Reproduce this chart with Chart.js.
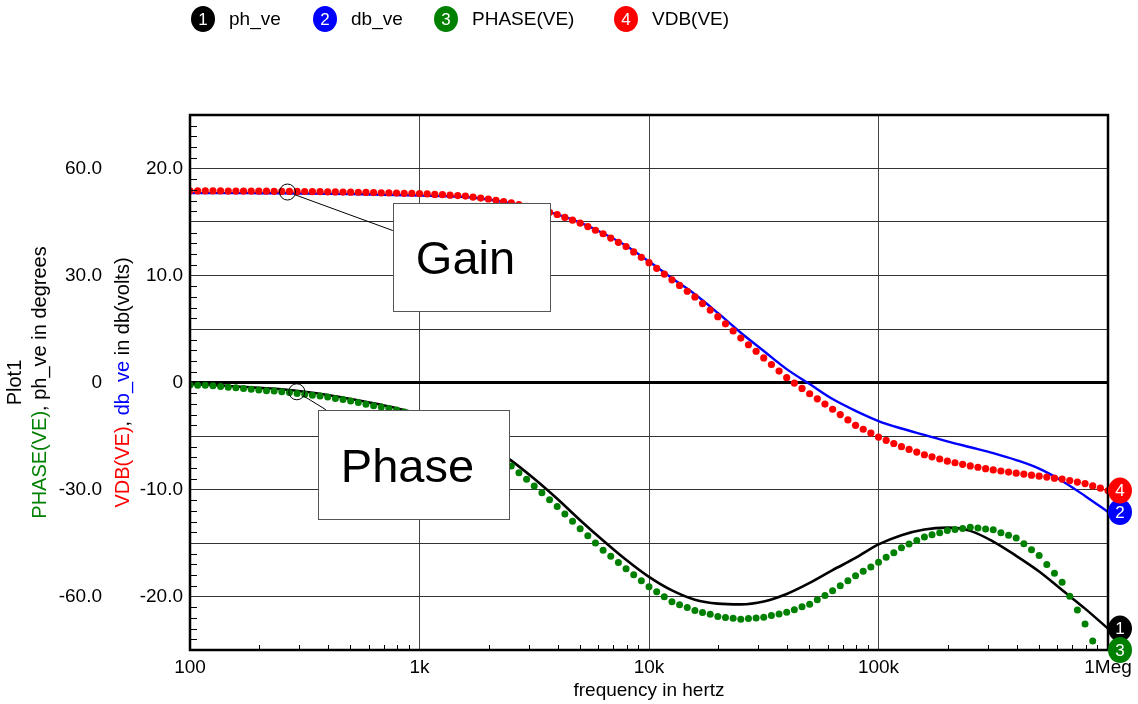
<!DOCTYPE html>
<html>
<head>
<meta charset="utf-8">
<title>Plot1</title>
<script src="https://cdn.jsdelivr.net/npm/chart.js@4.4.1/dist/chart.umd.min.js"></script>
<style>
  html, body { margin: 0; padding: 0; background: #fff; }
  #plot { display: block; }
</style>
</head>
<body>
<canvas id="plot" width="1138" height="704"></canvas>
<script>
// AC sweep: decades and the points inside each decade
const decades = [100, 1000, 10000, 100000];
const dotMant = [1.000, 1.080, 1.166, 1.259, 1.359, 1.468, 1.585, 1.711, 1.848, 1.995,
  2.154, 2.326, 2.512, 2.712, 2.929, 3.162, 3.415, 3.687, 3.981, 4.299,
  4.642, 5.012, 5.412, 5.843, 6.310, 6.813, 7.356, 7.943, 8.577, 9.261];
const lineMant = [1.000, 1.259, 1.585, 1.995, 2.512, 3.162, 3.981, 5.012, 6.310, 7.943];

// VDB(VE) - red dots, dB
const vdbVe = [17.90, 17.90, 17.90, 17.90, 17.90, 17.89, 17.89, 17.89, 17.88, 17.88,
  17.88, 17.87, 17.87, 17.86, 17.86, 17.85, 17.84, 17.83, 17.82, 17.81,
  17.80, 17.79, 17.78, 17.76, 17.75, 17.73, 17.72, 17.70, 17.68, 17.67,
  17.65, 17.62, 17.58, 17.55, 17.51, 17.47, 17.42, 17.33, 17.24, 17.15,
  17.03, 16.90, 16.78, 16.62, 16.46, 16.30, 16.10, 15.90, 15.70, 15.43,
  15.17, 14.90, 14.57, 14.23, 13.90, 13.50, 13.10, 12.70, 12.20, 11.70,
  11.20, 10.67, 10.13, 9.60, 9.07, 8.53, 8.00, 7.38, 6.77, 6.15,
  5.48, 4.82, 4.15, 3.53, 2.92, 2.30, 1.68, 1.07, 0.45, -0.05,
  -0.55, -1.05, -1.53, -2.02, -2.50, -3.00, -3.50, -4.00, -4.37, -4.73,
  -5.10, -5.40, -5.70, -6.00, -6.25, -6.50, -6.75, -6.95, -7.15, -7.35,
  -7.50, -7.65, -7.80, -7.92, -8.05, -8.17, -8.27, -8.37, -8.47, -8.56,
  -8.66, -8.75, -8.84, -8.94, -9.03, -9.17, -9.31, -9.45, -9.67, -9.88,
  -10.10];

// PHASE(VE) - green dots, degrees
const phaseVe = [-0.7, -0.8, -0.8, -0.9, -1.1, -1.3, -1.5, -1.7, -1.9, -2.1,
  -2.3, -2.4, -2.6, -2.8, -3.1, -3.3, -3.6, -3.8, -4.1, -4.5,
  -4.8, -5.2, -5.6, -6.1, -6.5, -6.9, -7.3, -7.7, -8.3, -8.9,
  -9.5, -10.3, -11.2, -12.0, -13.0, -13.9, -14.9, -16.0, -17.2, -18.3,
  -20.0, -21.7, -23.4, -25.3, -27.1, -29.0, -30.9, -32.9, -34.8, -36.9,
  -38.9, -41.0, -43.0, -45.0, -47.0, -48.7, -50.5, -52.2, -53.9, -55.6,
  -57.3, -58.7, -60.1, -61.5, -62.3, -63.1, -63.9, -64.5, -65.0, -65.6,
  -65.9, -66.1, -66.4, -66.2, -66.0, -65.8, -65.3, -64.9, -64.4, -63.7,
  -62.9, -62.2, -60.9, -59.7, -58.4, -57.0, -55.6, -54.2, -52.9, -51.7,
  -50.4, -49.0, -47.7, -46.3, -45.3, -44.3, -43.3, -42.7, -42.1, -41.5,
  -41.2, -40.9, -40.6, -40.8, -41.1, -41.3, -42.1, -42.8, -43.6, -45.2,
  -46.9, -48.5, -51.0, -53.5, -56.0, -59.9, -63.8, -67.7, -72.5, -77.0,
  -81.0];

// db_ve - blue line, dB
const dbVe = [17.70, 17.70, 17.70, 17.69, 17.68, 17.66, 17.64, 17.61, 17.57, 17.52,
  17.48, 17.42, 17.33, 17.10, 16.75, 16.30, 15.72, 14.95, 13.95, 12.78,
  11.30, 9.75, 8.25, 6.50, 4.65, 2.95, 1.25, -0.15, -1.55, -2.65,
  -3.60, -4.30, -4.90, -5.50, -6.05, -6.60, -7.25, -8.05, -9.20, -10.60,
  -12.10];

// ph_ve - black line, degrees
const phVe = [-0.5, -0.7, -1.1, -1.5, -1.9, -2.6, -3.5, -4.6, -5.8, -7.2,
  -8.9, -11.2, -14.0, -17.4, -21.9, -27.0, -32.6, -38.6, -44.3, -49.7,
  -54.5, -58.3, -60.9, -62.0, -62.2, -61.4, -59.3, -56.2, -52.6, -49.2,
  -45.4, -42.8, -41.2, -40.7, -41.6, -44.6, -48.6, -53.0, -58.2, -63.4,
  -69.0];

const xTickValues = [100, 1e3, 1e4, 1e5, 1e6];
const xTickLabels = ["100", "1k", "10k", "100k", "1Meg"];
const dbTicks = [20, 10, 0, -10, -20];
const dbTickLabels = ["20.0", "10.0", "0", "-10.0", "-20.0"];
const phTicks = [60, 30, 0, -30, -60];
const phTickLabels = ["60.0", "30.0", "0", "-30.0", "-60.0"];

// callouts: marked point, leader end, box (x1, x2, yTop, yBottom) in data units
const notes = [
  { text: "Gain", axis: "y", mark: [266, 17.8], lead: [765, 14.2], box: [765, 3690, 16.75, 6.7] },
  { text: "Phase", axis: "y2", mark: [292, -2.6], lead: [391, -7.64], box: [361, 2446, -7.64, -38.15] },
];

// legend badge centres along the top row
const legendX = [203, 325, 446, 626];

const FONT = "'Liberation Sans', Arial, sans-serif";
Chart.defaults.font.family = FONT;
Chart.defaults.color = "#000";

const dotFreqs = decades.flatMap((d) => dotMant.map((m) => d * m)).concat([1e6]);
const lineFreqs = decades.flatMap((d) => lineMant.map((m) => d * m)).concat([1e6]);
const toPoints = (xs, ys) => ys.map((y, i) => ({ x: xs[i], y: y }));

function badge(ctx, x, y, rx, ry, color, label, size) {
  ctx.save();
  ctx.fillStyle = color;
  ctx.beginPath();
  ctx.ellipse(x, y, rx, ry, 0, 0, Math.PI * 2);
  ctx.fill();
  ctx.fillStyle = "#fff";
  ctx.font = size + "px " + FONT;
  ctx.textAlign = "center";
  ctx.textBaseline = "middle";
  ctx.fillText(label, x, y + 1);
  ctx.restore();
}

const overlay = {
  id: "overlay",
  afterDatasetsDraw(chart) {
    const { ctx, chartArea: a, scales } = chart;
    const sx = scales.x;
    ctx.save();

    // Gain / Phase callouts
    notes.forEach((n) => {
      const sy = scales[n.axis];
      const cx = sx.getPixelForValue(n.mark[0]);
      const cy = sy.getPixelForValue(n.mark[1]);
      const lx = sx.getPixelForValue(n.lead[0]);
      const ly = sy.getPixelForValue(n.lead[1]);
      const x1 = Math.round(sx.getPixelForValue(n.box[0]));
      const x2 = Math.round(sx.getPixelForValue(n.box[1]));
      const y1 = Math.round(sy.getPixelForValue(n.box[2]));
      const y2 = Math.round(sy.getPixelForValue(n.box[3]));
      const ang = Math.atan2(ly - cy, lx - cx);
      ctx.strokeStyle = "#000";
      ctx.lineWidth = 1;
      ctx.beginPath();
      ctx.arc(cx, cy, 8, 0, Math.PI * 2);
      ctx.stroke();
      ctx.beginPath();
      ctx.moveTo(cx + 8 * Math.cos(ang), cy + 8 * Math.sin(ang));
      ctx.lineTo(lx, ly);
      ctx.stroke();
      ctx.fillStyle = "#fff";
      ctx.fillRect(x1, y1, x2 - x1, y2 - y1);
      ctx.strokeStyle = "#555";
      ctx.strokeRect(x1 + 0.5, y1 + 0.5, x2 - x1, y2 - y1);
      ctx.fillStyle = "#000";
      ctx.font = "47px " + FONT;
      ctx.textAlign = "center";
      ctx.textBaseline = "alphabetic";
      ctx.fillText(n.text, (x1 + x2) / 2 - 6, (y1 + y2) / 2 + 17);
    });

    // minor ticks inside the frame
    ctx.strokeStyle = "#000";
    ctx.lineWidth = 1;
    ctx.beginPath();
    for (let v = -24; v <= 24; v++) {
      if (v % 5 === 0) continue;
      const y = Math.round(scales.y.getPixelForValue(v)) + 0.5;
      ctx.moveTo(a.left, y);
      ctx.lineTo(a.left + 7, y);
    }
    decades.forEach((d) => {
      for (let m = 2; m <= 9; m++) {
        const x = Math.round(sx.getPixelForValue(d * m)) + 0.5;
        ctx.moveTo(x, a.bottom);
        ctx.lineTo(x, a.bottom - 5);
      }
    });
    ctx.stroke();

    // frame
    ctx.lineWidth = 2.5;
    ctx.strokeRect(a.left, a.top, a.right - a.left, a.bottom - a.top);

    // numbered markers at the end of each curve
    chart.data.datasets.forEach((ds, i) => {
      const sy = scales[ds.yAxisID];
      const last = ds.data[ds.data.length - 1].y;
      const y = Math.min(a.bottom, Math.max(a.top, sy.getPixelForValue(last)));
      badge(ctx, a.right + 12, y, 12, 13, ds.tagColor, String(i + 1), 17);
    });
    ctx.restore();
  },
  afterDraw(chart) {
    const { ctx, chartArea: a } = chart;
    ctx.save();

    // legend row
    chart.data.datasets.forEach((ds, i) => {
      const cx = legendX[i];
      badge(ctx, cx, 19, 12, 13, ds.tagColor, String(i + 1), 17);
      ctx.font = "19px " + FONT;
      ctx.fillStyle = "#000";
      ctx.textAlign = "left";
      ctx.textBaseline = "middle";
      ctx.fillText(ds.label, cx + 26, 20);
    });

    // rotated, multi-colour y titles
    const yTitle = [
      { x: 15, parts: [["Plot1", "#000"]] },
      { x: 40, parts: [["PHASE(VE)", "#008000"], [", ph_ve in degrees", "#000"]] },
      { x: 123, parts: [["VDB(VE)", "#ff0000"], [", ", "#000"], ["db_ve", "#0000ff"], [" in db(volts)", "#000"]] },
    ];
    const cy = (a.top + a.bottom) / 2;
    ctx.font = "20px " + FONT;
    ctx.textAlign = "left";
    ctx.textBaseline = "middle";
    yTitle.forEach((line) => {
      const total = line.parts.reduce((s, p) => s + ctx.measureText(p[0]).width, 0);
      ctx.save();
      ctx.translate(line.x, cy);
      ctx.rotate(-Math.PI / 2);
      let pos = -total / 2;
      line.parts.forEach(([t, c]) => {
        ctx.fillStyle = c;
        ctx.fillText(t, pos, 0);
        pos += ctx.measureText(t).width;
      });
      ctx.restore();
    });
    ctx.restore();
  },
};

const ctx = document.getElementById("plot").getContext("2d");

const plot = new Chart(ctx, {
  type: "line",
  data: {
    datasets: [
      {
        label: "ph_ve",
        data: toPoints(lineFreqs, phVe),
        yAxisID: "y2",
        borderColor: "#000000",
        borderWidth: 2.6,
        pointRadius: 0,
        cubicInterpolationMode: "monotone",
        tagColor: "#000000",
        order: 3,
      },
      {
        label: "db_ve",
        data: toPoints(lineFreqs, dbVe),
        yAxisID: "y",
        borderColor: "#0000ff",
        borderWidth: 2.4,
        pointRadius: 0,
        cubicInterpolationMode: "monotone",
        tagColor: "#0000ff",
        order: 2,
      },
      {
        label: "PHASE(VE)",
        data: toPoints(dotFreqs, phaseVe),
        yAxisID: "y2",
        showLine: false,
        pointRadius: 3.5,
        pointBorderWidth: 0,
        pointBackgroundColor: "#008000",
        tagColor: "#008000",
        order: 1,
      },
      {
        label: "VDB(VE)",
        data: toPoints(dotFreqs, vdbVe),
        yAxisID: "y",
        showLine: false,
        pointRadius: 3.6,
        pointBorderWidth: 0,
        pointBackgroundColor: "#ff0000",
        tagColor: "#ff0000",
        order: 0,
      },
    ],
  },
  options: {
    responsive: false,
    animation: false,
    devicePixelRatio: 1,
    layout: { padding: { top: 115, right: 30, left: 0, bottom: 0 } },
    plugins: {
      legend: { display: false },
      tooltip: { enabled: false },
    },
    scales: {
      x: {
        type: "logarithmic",
        min: 100,
        max: 1e6,
        afterBuildTicks: (s) => {
          s.ticks = xTickValues.map((v) => ({ value: v }));
        },
        afterFit: (s) => {
          s.height = 54;
        },
        ticks: {
          callback: (v) => xTickLabels[xTickValues.indexOf(v)],
          font: { size: 19 },
          padding: 6,
          maxRotation: 0,
          autoSkip: false,
        },
        grid: { color: "#444", lineWidth: 1, drawTicks: false },
        border: { display: false },
        title: {
          display: true,
          text: "frequency in hertz",
          font: { size: 19 },
          padding: { top: 0, bottom: 2 },
        },
      },
      y: {
        position: "left",
        weight: 0,
        min: -25,
        max: 25,
        afterFit: (s) => {
          s.width = 85;
        },
        ticks: {
          stepSize: 5,
          padding: 7,
          font: { size: 19 },
          callback: (v) => {
            const i = dbTicks.indexOf(v);
            return i < 0 ? "" : dbTickLabels[i];
          },
        },
        grid: {
          drawTicks: false,
          color: (c) => (c.tick && c.tick.value === 0 ? "#000" : "#333"),
          lineWidth: (c) => (c.tick && c.tick.value === 0 ? 3 : 1),
        },
        border: { display: false },
      },
      y2: {
        position: "left",
        weight: 1,
        min: -75,
        max: 75,
        afterFit: (s) => {
          s.width = 105;
        },
        ticks: {
          stepSize: 15,
          padding: 3,
          font: { size: 19 },
          callback: (v) => {
            const i = phTicks.indexOf(v);
            return i < 0 ? "" : phTickLabels[i];
          },
        },
        grid: { drawOnChartArea: false, drawTicks: false },
        border: { display: false },
      },
    },
  },
  plugins: [overlay],
});
</script>
</body>
</html>
